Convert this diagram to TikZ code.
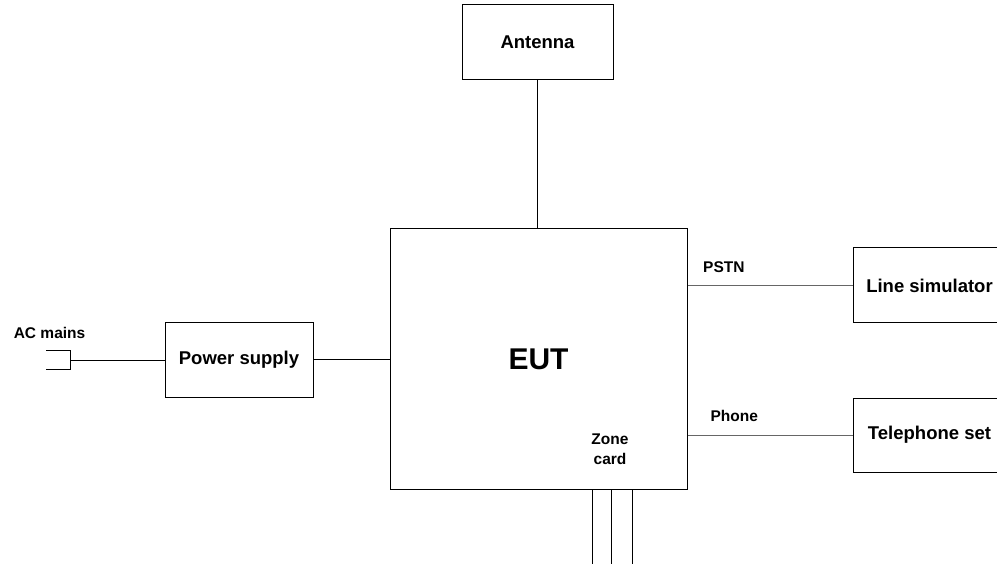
\documentclass[tikz,border=0pt]{standalone}
\usepackage{fontspec}
\setmainfont{Liberation Sans}
\usetikzlibrary{positioning}

\begin{document}
\begin{tikzpicture}[x=1pt, y=-1pt, line width=1pt,
  box/.style={rectangle, draw, minimum height=75pt, inner sep=0pt, font=\bfseries\fontsize{18.5}{22}\selectfont},
  lbl/.style={inner sep=0pt, font=\bfseries\fontsize{15.5}{19.5}\selectfont},
  feed/.style={draw=black!60}
]
\useasboundingbox (0,0) rectangle (997,564);
\clip (0,0) rectangle (997,564);

% Equipment under test
\node[box, minimum width=297pt, minimum height=260pt, font=\bfseries\fontsize{30}{36}\selectfont] (eut) at (538.5, 359) {EUT};
\node[lbl, align=center] (zone) at (610, 449) {Zone\\card};

% Antenna
\node[box, minimum width=151pt] (ant) at (537.5, 42.5) {Antenna};

% Power
\node[box, minimum width=148pt] (ps) at (239, 360) {Power supply};
\node[lbl, anchor=base west] (mains) at (13.3, 338.3) {AC mains};
\coordinate (plug) at (70, 360.5);
\draw (46, 351) -| (70, 370) -- (46, 370);

% Lines to the right
\node[box, minimum width=153pt] (sim) at (929.5, 285.5) {Line simulator};
\node[box, minimum width=153pt, minimum height=74pt] (tel) at (929.5, 435) {Telephone set};
\node[lbl, anchor=base west] (pstn) at (702.7, 272.5) {PSTN};
\node[lbl, anchor=base west] (phone) at (710, 421) {Phone};

% Zone card wires
\coordinate (z1) at (592.7, 564);
\coordinate (z2) at (611, 564);
\coordinate (z3) at (632.7, 564);

% Connectors
\draw (ant) -- (ant |- eut.north);
\draw (plug) -- (ps.west |- plug);
\draw (ps) -- (eut.west |- ps);
\draw[feed] (eut.east |- sim) -- (sim);
\draw[feed] (eut.east |- tel) -- (tel);
\draw (z1 |- eut.south) -- (z1);
\draw (z2 |- eut.south) -- (z2);
\draw (z3 |- eut.south) -- (z3);

\end{tikzpicture}
\end{document}
